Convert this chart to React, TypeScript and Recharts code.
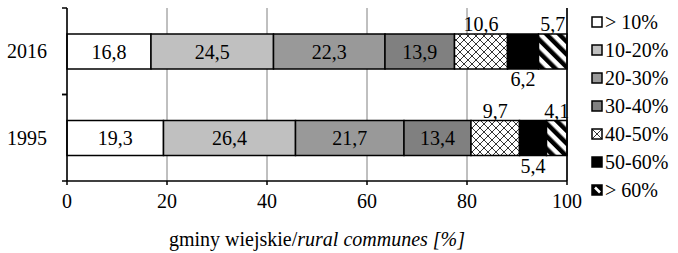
import React from 'react';
import { BarChart, Bar, XAxis, YAxis, CartesianGrid, LabelList, ReferenceLine } from 'recharts';

const categories = ['2016', '1995'];
const share0to10 = [16.8, 19.3];
const share10to20 = [24.5, 26.4];
const share20to30 = [22.3, 21.7];
const share30to40 = [13.9, 13.4];
const share40to50 = [10.6, 9.7];
const share50to60 = [6.2, 5.4];
const share60plus = [5.7, 4.1];
const xTicks = [0, 20, 40, 60, 80, 100];
const seriesNames = ['> 10%', '10-20%', '20-30%', '30-40%', '40-50%', '50-60%', '> 60%'];

const data = categories.map((c, i) => ({
  year: c,
  s1: share0to10[i],
  s2: share10to20[i],
  s3: share20to30[i],
  s4: share30to40[i],
  s5: share40to50[i],
  s6: share50to60[i],
  s7: share60plus[i],
}));

const FONT = '"Liberation Serif", "Times New Roman", serif';
const fmt = (v: any) => Number(v).toFixed(1).replace('.', ',');

const series = [
  { key: 's1', fill: '#ffffff', pos: 'center' },
  { key: 's2', fill: '#c0c0c0', pos: 'center' },
  { key: 's3', fill: '#999999', pos: 'center' },
  { key: 's4', fill: '#808080', pos: 'center' },
  { key: 's5', fill: 'url(#cross)', pos: 'top' },
  { key: 's6', fill: '#000000', pos: 'bottom' },
  { key: 's7', fill: 'url(#stripes)', pos: 'top' },
];

const TICK_SIZE = 5;
const TICK_MARGIN = 15;

const YTick = (props: any) => {
  const { x, y, payload } = props;
  const half = payload && payload.offset != null ? payload.offset : 43;
  const ax = x + TICK_MARGIN + TICK_SIZE;
  return (
    <g>
      <text x={x} y={y} textAnchor="end" dominantBaseline="central" fontFamily={FONT} fontSize={20} fill="#000">
        {payload.value}
      </text>
      <line x1={ax - TICK_SIZE} x2={ax} y1={y - half} y2={y - half} stroke="#000" strokeWidth={1.5} />
      <line x1={ax - TICK_SIZE} x2={ax} y1={y + half} y2={y + half} stroke="#000" strokeWidth={1.5} />
    </g>
  );
};

const XLabel = (props: any) => {
  const vb = props.viewBox || {};
  const cx = vb.x + vb.width / 2;
  return (
    <text x={cx} y={246} textAnchor="middle" fontFamily={FONT} fontSize={20} fill="#000">
      <tspan>gminy wiejskie/</tspan>
      <tspan fontStyle="italic">rural communes [%]</tspan>
    </text>
  );
};

const LegendIcon = ({ i }: { i: number }) => {
  const fills = ['#ffffff', '#c0c0c0', '#999999', '#808080', '#ffffff', '#000000', '#000000'];
  return (
    <svg width={12} height={12} style={{ display: 'block' }}>
      <rect x={1} y={1} width={10} height={10} fill={fills[i]} stroke="#000" strokeWidth={1.5} />
      {i === 4 && (
        <g stroke="#000" strokeWidth={0.8}>
          <line x1={1} y1={1} x2={11} y2={11} />
          <line x1={11} y1={1} x2={1} y2={11} />
        </g>
      )}
      {i === 6 && <line x1={4} y1={3.5} x2={9} y2={8.5} stroke="#fff" strokeWidth={2.6} />}
    </svg>
  );
};

export default function App() {
  return (
    <div style={{ position: 'absolute', left: 0, top: 0, width: 678, height: 253 }}>
      <BarChart
        width={678}
        height={253}
        data={data}
        layout="vertical"
        margin={{ top: 8, right: 111, bottom: 0, left: 8 }}
        barSize={35}
      >
        <defs>
          <pattern id="cross" width={8} height={8} patternUnits="userSpaceOnUse">
            <rect width={8} height={8} fill="#fff" />
            <path d="M0,0 L8,8 M8,0 L0,8" stroke="#000" strokeWidth={0.8} />
          </pattern>
          <pattern id="stripes" width={9} height={9} patternUnits="userSpaceOnUse" patternTransform="rotate(-45)">
            <rect width={9} height={9} fill="#fff" />
            <rect width={4.5} height={9} fill="#000" />
          </pattern>
        </defs>
        <CartesianGrid horizontal={false} vertical stroke="#808080" strokeWidth={1} />
        <XAxis
          type="number"
          domain={[0, 100]}
          ticks={xTicks}
          interval={0}
          height={72}
          axisLine={{ stroke: '#000', strokeWidth: 1.5 }}
          tickLine={{ stroke: '#000', strokeWidth: 1.5 }}
          tickSize={4}
          tickMargin={9}
          tick={{ fill: '#000', fontFamily: FONT, fontSize: 20 }}
          label={<XLabel />}
        />
        <XAxis
          xAxisId="top"
          orientation="top"
          type="number"
          domain={[0, 100]}
          height={0}
          tick={false}
          tickLine={false}
          axisLine={{ stroke: '#333', strokeWidth: 1.5 }}
        />
        <YAxis
          type="category"
          dataKey="year"
          width={59}
          axisLine={{ stroke: '#000', strokeWidth: 1.5 }}
          tickLine={false}
          tickSize={TICK_SIZE}
          tickMargin={TICK_MARGIN}
          tick={<YTick />}
        />
        <ReferenceLine x={100} stroke="#000" strokeWidth={1.5} />
        {series.map((s) => (
          <Bar key={s.key} dataKey={s.key} stackId="a" fill={s.fill} stroke="#000" strokeWidth={1.5} isAnimationActive={false}>
            <LabelList
              dataKey={s.key}
              position={s.pos as any}
              offset={3}
              formatter={fmt}
              fill="#000"
              fontFamily={FONT}
              fontSize={20}
            />
          </Bar>
        ))}
      </BarChart>
      <div style={{ position: 'absolute', left: 591, top: 8, fontFamily: FONT, fontSize: 20, color: '#000' }}>
        {seriesNames.map((n, i) => (
          <div key={n} style={{ display: 'flex', alignItems: 'center', height: 28, whiteSpace: 'pre' }}>
            <LegendIcon i={i} />
            <span style={{ marginLeft: 2 }}>{n}</span>
          </div>
        ))}
      </div>
    </div>
  );
}
